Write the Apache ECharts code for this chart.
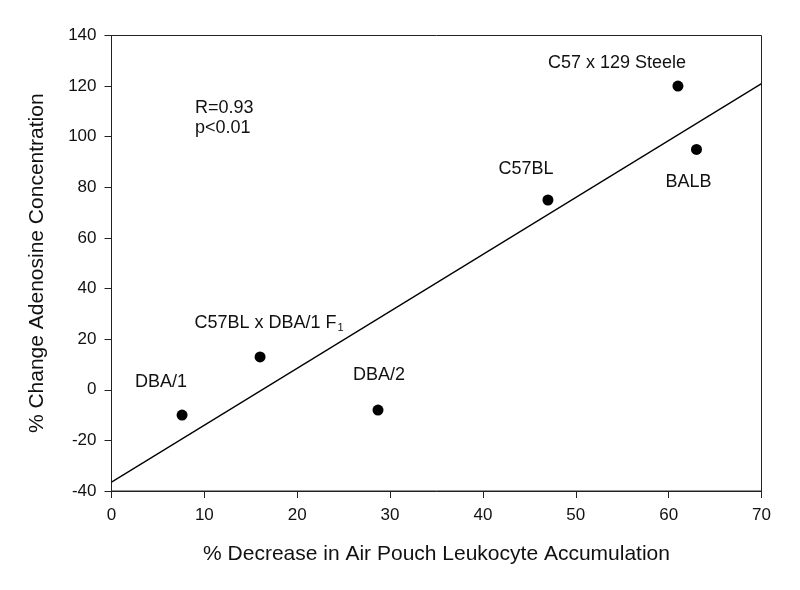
<!DOCTYPE html>
<html>
<head>
<meta charset="utf-8">
<script src="https://cdn.jsdelivr.net/npm/echarts@6/dist/echarts.min.js"></script>
<style>html,body{margin:0;padding:0;background:#fff}#c{width:800px;height:590px}</style>
</head>
<body>
<div id="c"></div>
<script>
// ---- data ----
const strains = ['DBA/1', 'C57BL x DBA/1 F1', 'DBA/2', 'C57BL', 'C57 x 129 Steele', 'BALB'];
const leukocyteDecrease = [7.6, 16.0, 28.7, 47.0, 61.0, 63.0];
const adenosineChange = [-10, 13, -8, 75, 120, 95];
const fitLineX = [0, 70];
const fitLineY = [-36.5, 121];
const xTicks = [0, 10, 20, 30, 40, 50, 60, 70];
const yTicks = [-40, -20, 0, 20, 40, 60, 80, 100, 120, 140];
const statsText = ['R=0.93', 'p<0.01'];

// label offsets (px) relative to each point
const labelOffsets = [[-21, -33], [9, -34], [1, -35], [-22, -31], [-61, -23], [-8, 33]];

const FONT = '"Liberation Sans", Arial, sans-serif';
const TXT = '#111';
const chart = echarts.init(document.getElementById('c'), null, {renderer: 'canvas'});

const scatterData = strains.map((s, i) => ({
  name: s,
  value: [leukocyteDecrease[i], adenosineChange[i]],
  label: {
    show: true,
    position: 'inside',
    offset: labelOffsets[i],
    color: TXT,
    opacity: 1,
    formatter: s === 'C57BL x DBA/1 F1' ? '{a|C57BL x DBA/1 F}{s|1}' : '{a|' + s + '}',
    rich: {
      a: {fontSize: 18, fontFamily: FONT, color: TXT, lineHeight: 20},
      s: {fontSize: 11, fontFamily: FONT, color: TXT, lineHeight: 11, padding: [10, 0, 0, 1]}
    }
  }
}));

chart.setOption({
  animation: false,
  backgroundColor: '#fff',
  title: {
    text: statsText.join('\n'),
    left: 190, top: 93,
    textStyle: {fontSize: 18, fontWeight: 'normal', fontFamily: FONT, color: TXT, lineHeight: 20}
  },
  grid: {left: 111.5, right: 38.5, top: 35.5, bottom: 99, show: true, borderColor: '#222', borderWidth: 1},
  xAxis: {
    type: 'value', min: xTicks[0], max: xTicks[xTicks.length - 1], interval: 10,
    name: '% Decrease in Air Pouch Leukocyte Accumulation',
    nameLocation: 'middle', nameGap: 53,
    nameTextStyle: {fontSize: 21, fontFamily: FONT, color: TXT},
    axisLine: {show: true, onZero: false, lineStyle: {color: '#222', width: 1}},
    axisTick: {show: true, inside: false, length: 7, lineStyle: {color: '#222'}},
    axisLabel: {fontSize: 17, fontFamily: FONT, color: TXT, margin: 16},
    splitLine: {show: false}
  },
  yAxis: {
    type: 'value', min: yTicks[0], max: yTicks[yTicks.length - 1], interval: 20,
    name: '% Change Adenosine Concentration',
    nameLocation: 'middle', nameGap: 64, nameRotate: 90,
    nameTextStyle: {fontSize: 21, fontFamily: FONT, color: TXT},
    axisLine: {show: true, onZero: false, lineStyle: {color: '#222', width: 1}},
    axisTick: {show: true, inside: false, length: 7, lineStyle: {color: '#222'}},
    axisLabel: {fontSize: 17, fontFamily: FONT, color: TXT, margin: 15},
    splitLine: {show: false}
  },
  series: [
    {
      type: 'line',
      data: fitLineX.map((x, i) => [x, fitLineY[i]]),
      showSymbol: false, symbol: 'none',
      lineStyle: {color: '#000', width: 1.3},
      silent: true, z: 2
    },
    {
      type: 'scatter',
      data: scatterData,
      symbol: 'circle', symbolSize: 11,
      itemStyle: {color: '#000', opacity: 1},
      z: 3
    }
  ]
});
</script>
</body>
</html>
